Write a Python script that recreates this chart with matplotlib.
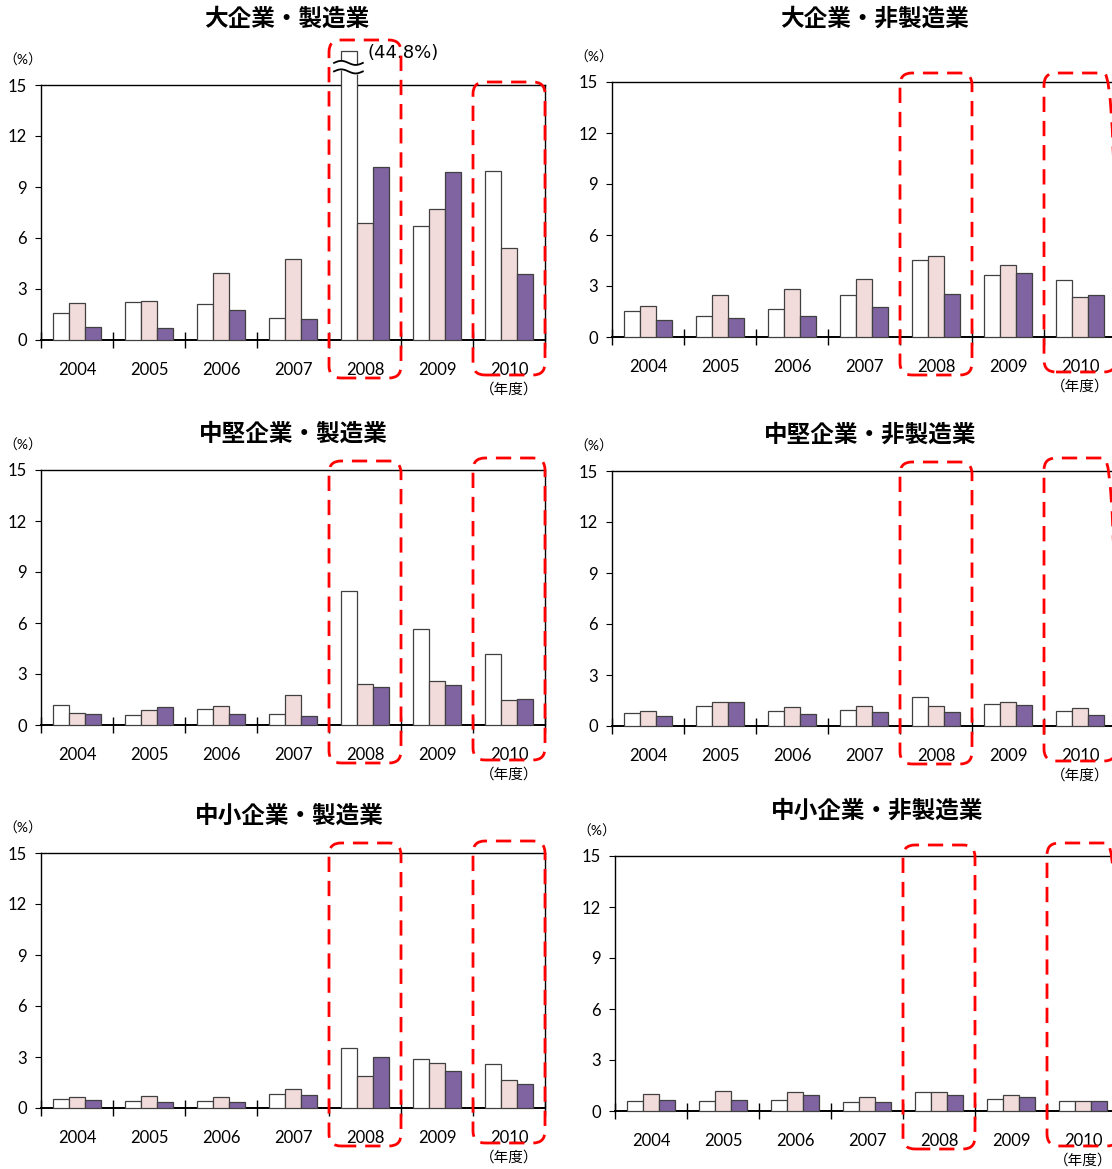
import matplotlib
matplotlib.use('Agg')
import matplotlib.pyplot as plt
from matplotlib.patches import FancyBboxPatch
from matplotlib.transforms import IdentityTransform
import numpy as np

plt.rcParams['font.family'] = ['Lato', 'Noto Sans CJK JP', 'DejaVu Sans']

W, H = 1112, 1169

years = ['2004', '2005', '2006', '2007', '2008', '2009', '2010']
yticks = [0, 3, 6, 9, 12, 15]

# 大企業・製造業
dai_sei_1 = [1.61, 2.22, 2.10, 1.32, 44.8, 6.70, 9.92]
dai_sei_2 = [2.16, 2.30, 3.97, 4.75, 6.86, 7.70, 5.40]
dai_sei_3 = [0.79, 0.73, 1.75, 1.22, 10.18, 9.90, 3.87]

# 大企業・非製造業
dai_hi_1 = [1.51, 1.24, 1.67, 2.49, 4.51, 3.67, 3.37]
dai_hi_2 = [1.82, 2.49, 2.84, 3.43, 4.78, 4.25, 2.35]
dai_hi_3 = [0.98, 1.14, 1.24, 1.76, 2.55, 3.78, 2.45]

# 中堅企業・製造業
chu_sei_1 = [1.20, 0.57, 0.93, 0.67, 7.89, 5.63, 4.19]
chu_sei_2 = [0.73, 0.87, 1.10, 1.79, 2.44, 2.60, 1.46]
chu_sei_3 = [0.63, 1.04, 0.63, 0.53, 2.24, 2.34, 1.52]

# 中堅企業・非製造業
chu_hi_1 = [0.78, 1.19, 0.86, 0.96, 1.73, 1.31, 0.90]
chu_hi_2 = [0.90, 1.44, 1.11, 1.19, 1.15, 1.44, 1.05]
chu_hi_3 = [0.57, 1.44, 0.72, 0.82, 0.80, 1.21, 0.66]

# 中小企業・製造業
sho_sei_1 = [0.53, 0.39, 0.39, 0.82, 3.53, 2.90, 2.57]
sho_sei_2 = [0.66, 0.70, 0.62, 1.11, 1.87, 2.67, 1.64]
sho_sei_3 = [0.47, 0.37, 0.37, 0.76, 2.98, 2.16, 1.40]

# 中小企業・非製造業
sho_hi_1 = [0.59, 0.59, 0.65, 0.53, 1.12, 0.73, 0.59]
sho_hi_2 = [0.98, 1.18, 1.12, 0.82, 1.12, 0.92, 0.59]
sho_hi_3 = [0.63, 0.63, 0.92, 0.53, 0.92, 0.82, 0.59]

colors = ['white', '#F2DCDB', '#8064A2']
ycap = 17.0  # 上限を超える棒は省略して描く

# (タイトル, 系列, 軸の左上px, タイトル位置px, 枠の上側余白)
panels = [
    ('大企業・製造業', (dai_sei_1, dai_sei_2, dai_sei_3), (41, 85), (287, 18), (45, 3)),
    ('大企業・非製造業', (dai_hi_1, dai_hi_2, dai_hi_3), (612, 82), (875, 18), (9, 9)),
    ('中堅企業・製造業', (chu_sei_1, chu_sei_2, chu_sei_3), (41, 470), (293, 433), (9, 12)),
    ('中堅企業・非製造業', (chu_hi_1, chu_hi_2, chu_hi_3), (612, 471), (870, 434), (9, 13)),
    ('中小企業・製造業', (sho_sei_1, sho_sei_2, sho_sei_3), (41, 853), (289, 815), (10, 12)),
    ('中小企業・非製造業', (sho_hi_1, sho_hi_2, sho_hi_3), (615, 856), (877, 810), (11, 13)),
]

fig = plt.figure(figsize=(W / 100, H / 100), dpi=100)
aw, ah = 504, 255
bw = 0.22
centers = np.arange(len(years)) + 0.5

for title, series, (l, t), (tx, ty), (top8, top10) in panels:
    ax = fig.add_axes([l / W, 1 - (t + ah) / H, aw / W, ah / H])
    for k, vals in enumerate(series):
        v = np.array(vals)
        ax.bar(centers + (k - 1) * bw, np.minimum(v, ycap), bw, color=colors[k],
               edgecolor='#404040', linewidth=0.9, zorder=3, clip_on=False)
        for i in np.where(v > ycap)[0]:
            # 省略記号
            x0 = centers[i] + (k - 1) * bw - bw / 2 - 0.1
            x1 = centers[i] + (k - 1) * bw + bw / 2 + 0.08
            xs = np.linspace(x0, x1, 40)
            wave = 0.12 * np.sin((xs - x0) / (x1 - x0) * 2 * np.pi)
            ax.fill_between(xs, 15.8 + wave, 16.3 + wave, color='white', zorder=4, clip_on=False)
            ax.plot(xs, 15.8 + wave, color='black', lw=1.3, zorder=5, clip_on=False)
            ax.plot(xs, 16.3 + wave, color='black', lw=1.3, zorder=5, clip_on=False)
            ax.text(centers[i] + (k - 1) * bw + bw / 2 + 0.15, 16.9, f'({v[i]}%)',
                    fontsize=13, family='DejaVu Sans', ha='left', va='center')

    ax.set_xlim(0, len(years))
    ax.set_ylim(0, 15)
    ax.set_yticks(yticks)
    ax.set_xticks(range(len(years) + 1))
    ax.set_xticklabels([])
    ax.set_xticks(centers, minor=True)
    ax.set_xticklabels(years, minor=True)
    ax.tick_params(axis='x', which='major', direction='inout', length=12, width=1)
    ax.tick_params(axis='x', which='minor', length=0, pad=16, labelsize=12)
    ax.tick_params(axis='y', direction='out', length=4, pad=6, labelsize=12)
    for s in ax.spines.values():
        s.set_linewidth(1)
    ax.spines['bottom'].set_linewidth(1.4)

    ax.annotate('（%）', xy=(0, 1), xycoords='axes fraction', xytext=(-18 * 0.72, 25 * 0.72),
                textcoords='offset points', ha='center', va='center', fontsize=10)
    ax.annotate('（年度）', xy=(6.5, 0), xycoords=('data', 'axes fraction'), xytext=(0, -50 * 0.72),
                textcoords='offset points', ha='center', va='center', fontsize=10.5)
    fig.text(tx / W, 1 - ty / H, title, fontsize=17, fontweight='bold', ha='center', va='center')

    # 赤い点線の枠（2008年度・2010年度）
    for cat, above, below in [(4, top8, 38), (6, top10, 35)]:
        xa = ax.transData.transform((cat, 0))[0]
        xb = ax.transData.transform((cat + 1, 0))[0]
        ytop = H - (t - above)
        ybot = H - (t + ah + below)
        box = FancyBboxPatch((xa, ybot), xb - xa, ytop - ybot,
                             boxstyle='round,pad=0,rounding_size=12',
                             transform=IdentityTransform(), fill=False,
                             edgecolor='#FF0000', linewidth=2, linestyle=(0, (5.5, 3.2)),
                             zorder=10, clip_on=False)
        fig.add_artist(box)

fig.savefig('out.png', dpi=100)
